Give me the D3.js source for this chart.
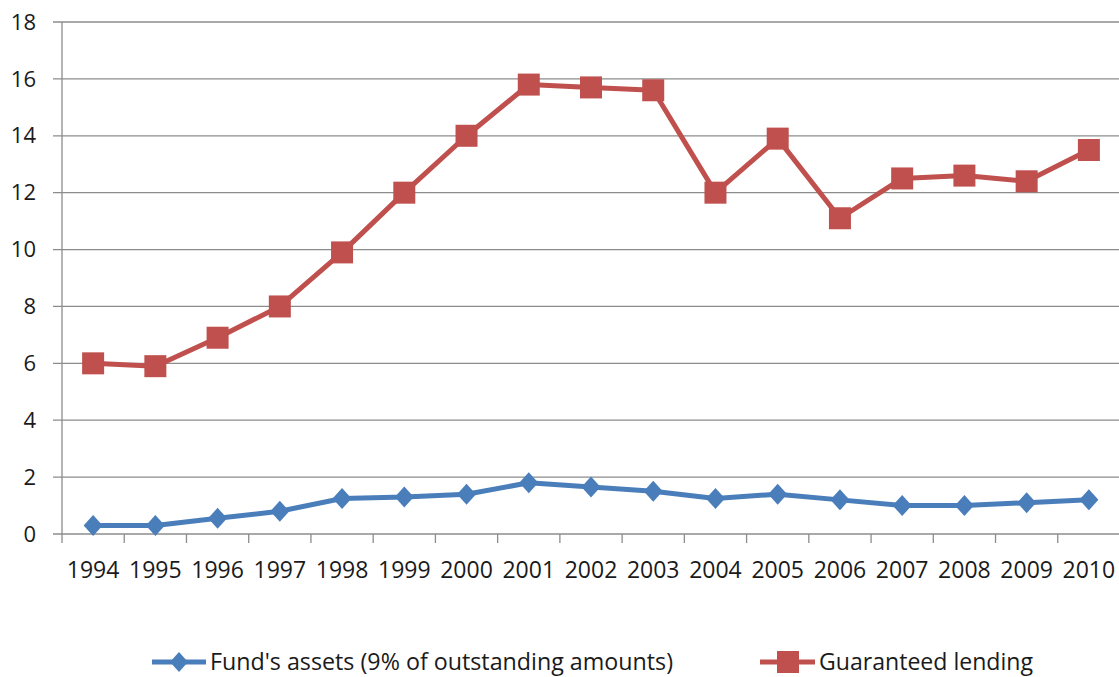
<!DOCTYPE html>
<html lang="en">
<head>
    <meta charset="utf-8" />
    <script src="https://d3js.org/d3.v7.min.js"></script>
    <title>Fund's assets and guaranteed lending</title>
    <style>
        body { margin: 0; background: #fff; }
        text { font-family: "Open Sans", "Noto Sans", sans-serif; fill: #1a1a1a; }
    </style>
</head>
<body>
    <script>
        // chart data
        const years = ["1994", "1995", "1996", "1997", "1998", "1999", "2000", "2001", "2002",
                       "2003", "2004", "2005", "2006", "2007", "2008", "2009", "2010"];
        const fundAssets = [0.3, 0.3, 0.55, 0.8, 1.25, 1.3, 1.4, 1.8, 1.65, 1.5, 1.25, 1.4, 1.2, 1.0, 1.0, 1.1, 1.2];
        const guaranteedLending = [6.0, 5.9, 6.9, 8.0, 9.9, 12.0, 14.0, 15.8, 15.7, 15.6, 12.0, 13.9, 11.1, 12.5, 12.6, 12.4, 13.5];
        const yTicks = [0, 2, 4, 6, 8, 10, 12, 14, 16, 18];
        const seriesNames = ["Fund's assets (9% of outstanding amounts)", "Guaranteed lending"];

        const width = 1119, height = 677;
        const plotLeft = 62, plotRight = 1120, plotTop = 22, plotBottom = 534;

        const svg = d3.select("body").append("svg")
            .attr("width", width)
            .attr("height", height);

        const xScale = d3.scaleBand().domain(years).range([plotLeft, plotRight]);
        const yScale = d3.scaleLinear().domain([0, 18]).range([plotBottom, plotTop]);

        // gridlines
        svg.append("g")
            .selectAll("line")
            .data(yTicks)
            .enter()
            .append("line")
            .attr("x1", plotLeft - 9)
            .attr("x2", width)
            .attr("y1", d => yScale(d))
            .attr("y2", d => yScale(d))
            .attr("stroke", "#8c8c8c")
            .attr("stroke-width", 1.3);

        // y axis line + labels
        svg.append("line")
            .attr("x1", plotLeft).attr("x2", plotLeft)
            .attr("y1", plotTop).attr("y2", plotBottom + 9)
            .attr("stroke", "#8c8c8c").attr("stroke-width", 1.3);

        svg.append("g")
            .selectAll("text")
            .data(yTicks)
            .enter()
            .append("text")
            .attr("x", 36)
            .attr("y", d => yScale(d))
            .attr("dy", "0.35em")
            .attr("text-anchor", "end")
            .style("font-size", "22px")
            .text(d => d);

        // x axis ticks at band edges
        const edges = years.map(y => xScale(y)).concat([plotRight]);
        svg.append("g")
            .selectAll("line")
            .data(edges.slice(1))
            .enter()
            .append("line")
            .attr("x1", d => d).attr("x2", d => d)
            .attr("y1", plotBottom).attr("y2", plotBottom + 9)
            .attr("stroke", "#8c8c8c").attr("stroke-width", 1.3);

        svg.append("g")
            .selectAll("text")
            .data(years)
            .enter()
            .append("text")
            .attr("x", d => xScale(d) + xScale.bandwidth() / 2)
            .attr("y", 570)
            .attr("dy", "0.35em")
            .attr("text-anchor", "middle")
            .style("font-size", "23px")
            .text(d => d);

        const cx = d => xScale(d) + xScale.bandwidth() / 2;
        const line = d3.line().x(d => cx(d[0])).y(d => yScale(d[1]));

        const blue = "#4a7ebb", red = "#c0504d";

        // blue series
        const fundPts = years.map((y, i) => [y, fundAssets[i]]);
        svg.append("path")
            .datum(fundPts)
            .attr("d", line)
            .attr("fill", "none")
            .attr("stroke", blue)
            .attr("stroke-width", 5)
            .attr("stroke-linejoin", "round");
        svg.append("g")
            .selectAll("path")
            .data(fundPts)
            .enter()
            .append("path")
            .attr("d", "M0,-10.5L9.5,0L0,10.5L-9.5,0Z")
            .attr("transform", d => "translate(" + cx(d[0]) + "," + yScale(d[1]) + ")")
            .attr("fill", blue);

        // red series
        const lendPts = years.map((y, i) => [y, guaranteedLending[i]]);
        svg.append("path")
            .datum(lendPts)
            .attr("d", line)
            .attr("fill", "none")
            .attr("stroke", red)
            .attr("stroke-width", 5)
            .attr("stroke-linejoin", "round");
        svg.append("g")
            .selectAll("rect")
            .data(lendPts)
            .enter()
            .append("rect")
            .attr("x", d => cx(d[0]) - 11)
            .attr("y", d => yScale(d[1]) - 11)
            .attr("width", 22)
            .attr("height", 22)
            .attr("fill", red);

        // legend (nudged up a little so the text is not clipped)
        const legendY = 662;
        const legend = svg.append("g").attr("id", "legend");
        legend.append("line")
            .attr("x1", 152).attr("x2", 206)
            .attr("y1", legendY).attr("y2", legendY)
            .attr("stroke", blue).attr("stroke-width", 5);
        legend.append("path")
            .attr("d", "M0,-10L9,0L0,10L-9,0Z")
            .attr("transform", "translate(179," + legendY + ")")
            .attr("fill", blue);
        legend.append("text")
            .attr("x", 210).attr("y", legendY)
            .attr("dy", "0.35em")
            .style("font-size", "23px")
            .attr("textLength", 463)
            .attr("lengthAdjust", "spacingAndGlyphs")
            .text(seriesNames[0]);

        legend.append("line")
            .attr("x1", 760).attr("x2", 815)
            .attr("y1", legendY).attr("y2", legendY)
            .attr("stroke", red).attr("stroke-width", 5);
        legend.append("rect")
            .attr("x", 777).attr("y", legendY - 11)
            .attr("width", 22).attr("height", 22)
            .attr("fill", red);
        legend.append("text")
            .attr("x", 819).attr("y", legendY)
            .attr("dy", "0.35em")
            .style("font-size", "23px")
            .attr("textLength", 214)
            .attr("lengthAdjust", "spacingAndGlyphs")
            .text(seriesNames[1]);
    </script>
</body>
</html>
